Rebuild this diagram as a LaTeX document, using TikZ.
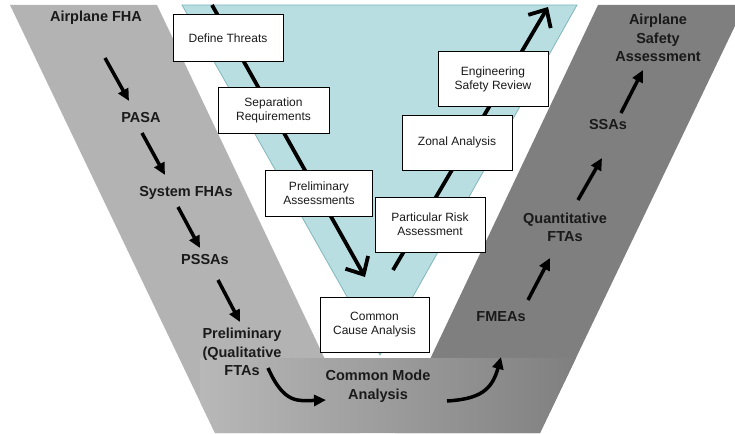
\documentclass[tikz,border=0pt]{standalone}
\usepackage{fontspec}
\setmainfont{Liberation Sans}
\usetikzlibrary{arrows.meta}
\definecolor{bandlight}{HTML}{B3B3B3}
\definecolor{banddark}{HTML}{7F7F7F}
\definecolor{bandmid}{HTML}{B8B8B8}
\definecolor{funnel}{HTML}{B8DEE2}
\definecolor{funneledge}{HTML}{80B6BC}
\definecolor{ink}{HTML}{1A1A1A}
\begin{document}
\begin{tikzpicture}[x=1pt,y=-1pt,
  stepbox/.style={draw=black, line width=1pt, fill=white, align=center,
    font=\fontsize{12}{14}\selectfont, inner sep=0pt, text=ink},
  lbl/.style={align=center, font=\bfseries\fontsize{14.5}{18.5}\selectfont, text=ink},
  flow/.style={line width=3.5pt, -{Triangle[length=12pt,width=11pt]}},
  track/.style={line width=3.8pt, -{Straight Barb[length=14pt,width=26pt]}},
]
\useasboundingbox (0,0) rectangle (735,433);

% the two process bands
\fill[bandlight] (10,5) -- (157,5) -- (360,433) -- (215,433) -- cycle;
\fill[banddark] (598,5) -- (745,5) -- (540,433) -- (395,433) -- cycle;

% shaded base joining both bands
\begin{scope}
  \clip (10,5) -- (215,433) -- (540,433) -- (745,5) -- cycle;
  \shade[left color=bandmid, right color=banddark] (200,358) rectangle (580,433);
\end{scope}

% inner funnel
\filldraw[fill=funnel, draw=funneledge, line width=0.8pt]
  (182,5) -- (577,5) -- (380,355) -- cycle;

% descending and ascending tracks
\coordinate (dnA) at (212,5);
\coordinate (dnB) at (365,277);
\coordinate (upA) at (393,270);
\coordinate (upB) at (548,7);
\draw[track] (dnA) -- (dnB);
\draw[track] (upA) -- (upB);

% activity boxes
\node[stepbox, minimum width=110pt, minimum height=47pt] (threats) at (228,38.5) {Define Threats};
\node[stepbox, minimum width=111pt, minimum height=45pt] (sepreq) at (273.5,110.5) {Separation\\Requirements};
\node[stepbox, minimum width=107pt, minimum height=46pt] (prelas) at (319,193) {Preliminary\\Assessments};
\node[stepbox, minimum width=109pt, minimum height=55pt] (ccause) at (374.5,324.5) {Common\\Cause Analysis};
\node[stepbox, minimum width=110pt, minimum height=55pt] (prisk) at (430,224.5) {Particular Risk\\Assessment};
\node[stepbox, minimum width=110pt, minimum height=55pt] (zonal) at (457,142.5) {Zonal Analysis};
\node[stepbox, minimum width=110pt, minimum height=55pt] (esr) at (493,79.5) {Engineering\\Safety Review};

% band labels
\node[lbl] (fha) at (96,18) {Airplane FHA};
\node[lbl] (pasa) at (141,118) {PASA};
\node[lbl] (sysfha) at (186,193) {System FHAs};
\node[lbl] (pssa) at (205,260) {PSSAs};
\node[lbl] (prelim) at (242,352) {Preliminary\\(Qualitative\\FTAs};
\node[lbl] (cma) at (378,386) {Common Mode\\Analysis};
\node[lbl] (fmea) at (501,317) {FMEAs};
\node[lbl] (qfta) at (565,227.5) {Quantitative\\FTAs};
\node[lbl] (ssa) at (608,125) {SSAs};
\node[lbl] (asa) at (658,38) {Airplane\\Safety\\Assessment};

% flow arrow end points
\coordinate (f1a) at (105,58);  \coordinate (f1b) at (129,101);
\coordinate (f2a) at (142,133); \coordinate (f2b) at (165,175);
\coordinate (f3a) at (178,207); \coordinate (f3b) at (200,248);
\coordinate (f4a) at (218,280); \coordinate (f4b) at (240,322);
\coordinate (c1a) at (268,368); \coordinate (c1b) at (326,400);
\coordinate (c2a) at (447,401); \coordinate (c2b) at (501,357);
\coordinate (f5a) at (528,300); \coordinate (f5b) at (550,258);
\coordinate (f6a) at (578,200); \coordinate (f6b) at (602,158);
\coordinate (f7a) at (621,113); \coordinate (f7b) at (643,70);

\draw[flow] (f1a) -- (f1b);
\draw[flow] (f2a) -- (f2b);
\draw[flow] (f3a) -- (f3b);
\draw[flow] (f4a) -- (f4b);
\draw[flow] (c1a) .. controls (284,404) and (298,401) .. (c1b);
\draw[flow] (c2a) .. controls (480,399) and (492,390) .. (c2b);
\draw[flow] (f5a) -- (f5b);
\draw[flow] (f6a) -- (f6b);
\draw[flow] (f7a) -- (f7b);
\end{tikzpicture}
\end{document}
